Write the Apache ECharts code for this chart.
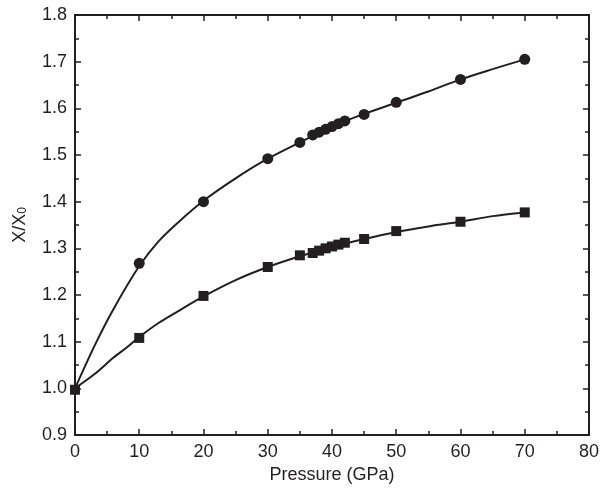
<!DOCTYPE html>
<html>
<head>
<meta charset="utf-8">
<script src="https://cdn.jsdelivr.net/npm/echarts@6/dist/echarts.min.js"></script>
<style>html,body{margin:0;padding:0;background:#fff}#c{width:602px;height:492px}</style>
</head>
<body>
<div id="c"></div>
<script>
// measured points (markers)
const pressure = [0, 10, 20, 30, 35, 37, 38, 39, 40, 41, 42, 45, 50, 60, 70];
const poisson  = [1.000, 1.268, 1.400, 1.492, 1.527, 1.543, 1.549, 1.555, 1.561, 1.567, 1.573, 1.587, 1.613, 1.662, 1.705];
const debye    = [0.997, 1.108, 1.198, 1.260, 1.285, 1.290, 1.295, 1.300, 1.304, 1.308, 1.312, 1.320, 1.337, 1.357, 1.377];
// fitted curves
const poissonCurveX = [0, 3, 6, 10, 13, 16, 20, 25, 30, 35, 40, 45, 50, 55, 60, 65, 70];
const poissonCurveY = [1.000, 1.090, 1.170, 1.262, 1.315, 1.355, 1.402, 1.450, 1.492, 1.527, 1.561, 1.588, 1.612, 1.636, 1.662, 1.684, 1.705];
const debyeCurveX = [0, 3, 6, 8, 10, 13, 16, 20, 25, 30, 35, 40, 45, 50, 55, 60, 65, 70];
const debyeCurveY = [1.000, 1.030, 1.066, 1.087, 1.110, 1.140, 1.165, 1.197, 1.232, 1.260, 1.283, 1.303, 1.320, 1.335, 1.347, 1.357, 1.369, 1.377];
const xTicks = [0, 10, 20, 30, 40, 50, 60, 70, 80];
const yTicks = [0.9, 1.0, 1.1, 1.2, 1.3, 1.4, 1.5, 1.6, 1.7, 1.8];
const seriesNames = ['Poisson ratio', 'Debye temperature'];
const labelAnchors = [[42.7, 1.539], [42.7, 1.271]];

const FONT = 'Liberation Sans, Arial, Helvetica, sans-serif';
const INK = '#231f20';
const FS = 18;
const chart = echarts.init(document.getElementById('c'));

function axisCommon(showLabels) {
  return {
    axisLine: {show: true, onZero: false, lineStyle: {color: INK, width: 2}},
    axisTick: {show: true, inside: true, length: 6, lineStyle: {color: INK, width: 1.5}},
    minorTick: {show: true, splitNumber: 2, length: 4, lineStyle: {color: INK, width: 1.5}},
    splitLine: {show: false},
    axisLabel: {show: showLabels, color: INK, fontFamily: FONT, fontSize: FS}
  };
}

const poissonData = pressure.slice(1).map((p, i) => [p, poisson[i + 1]]);
const debyeData = pressure.map((p, i) => [p, debye[i]]);
const pCurve = poissonCurveX.map((x, i) => [x, poissonCurveY[i]]);
const dCurve = debyeCurveX.map((x, i) => [x, debyeCurveY[i]]);

const yAxisLeft = Object.assign(axisCommon(true), {
  type: 'value', min: yTicks[0], max: yTicks[yTicks.length - 1], interval: 0.1, position: 'left',
  name: '{a|X/X}{b|0}', nameLocation: 'middle', nameGap: 46,
  nameTextStyle: {color: INK, fontFamily: FONT, fontSize: FS,
    rich: {a: {color: INK, fontFamily: FONT, fontSize: FS, verticalAlign: 'bottom', lineHeight: 22},
           b: {color: INK, fontFamily: FONT, fontSize: 12, verticalAlign: 'bottom', lineHeight: 14}}}
});
yAxisLeft.axisLabel.formatter = v => v.toFixed(1);

chart.setOption({
  animation: false,
  grid: {left: 75, right: 12, top: 15, bottom: 57, containLabel: false},
  xAxis: [
    Object.assign(axisCommon(true), {
      type: 'value', min: xTicks[0], max: xTicks[xTicks.length - 1], interval: 10, position: 'bottom',
      name: 'Pressure (GPa)', nameLocation: 'middle', nameGap: 31,
      nameTextStyle: {color: INK, fontFamily: FONT, fontSize: FS}
    }),
    Object.assign(axisCommon(false), {
      type: 'value', min: xTicks[0], max: xTicks[xTicks.length - 1], interval: 10, position: 'top'
    })
  ],
  yAxis: [
    yAxisLeft,
    Object.assign(axisCommon(false), {
      type: 'value', min: yTicks[0], max: yTicks[yTicks.length - 1], interval: 0.1, position: 'right'
    })
  ],
  series: [
    {
      type: 'line', data: pCurve, smooth: 0.3, symbol: 'none', silent: true,
      lineStyle: {color: INK, width: 2}, z: 2
    },
    {
      type: 'line', data: dCurve, smooth: 0.3, symbol: 'none', silent: true,
      lineStyle: {color: INK, width: 2}, z: 2
    },
    {
      name: seriesNames[0], type: 'scatter', data: poissonData,
      symbol: 'circle', symbolSize: 11, itemStyle: {color: INK, opacity: 1}, z: 3
    },
    {
      name: seriesNames[1], type: 'scatter', data: debyeData,
      symbol: 'rect', symbolSize: 10, itemStyle: {color: INK, opacity: 1}, z: 3
    },
    {
      type: 'scatter', symbol: 'none', silent: true,
      data: labelAnchors.map((a, i) => ({value: a, label: {show: true, formatter: seriesNames[i]}})),
      label: {position: 'right', distance: 0, color: INK, fontFamily: FONT, fontSize: FS}
    }
  ]
});
</script>
</body>
</html>
